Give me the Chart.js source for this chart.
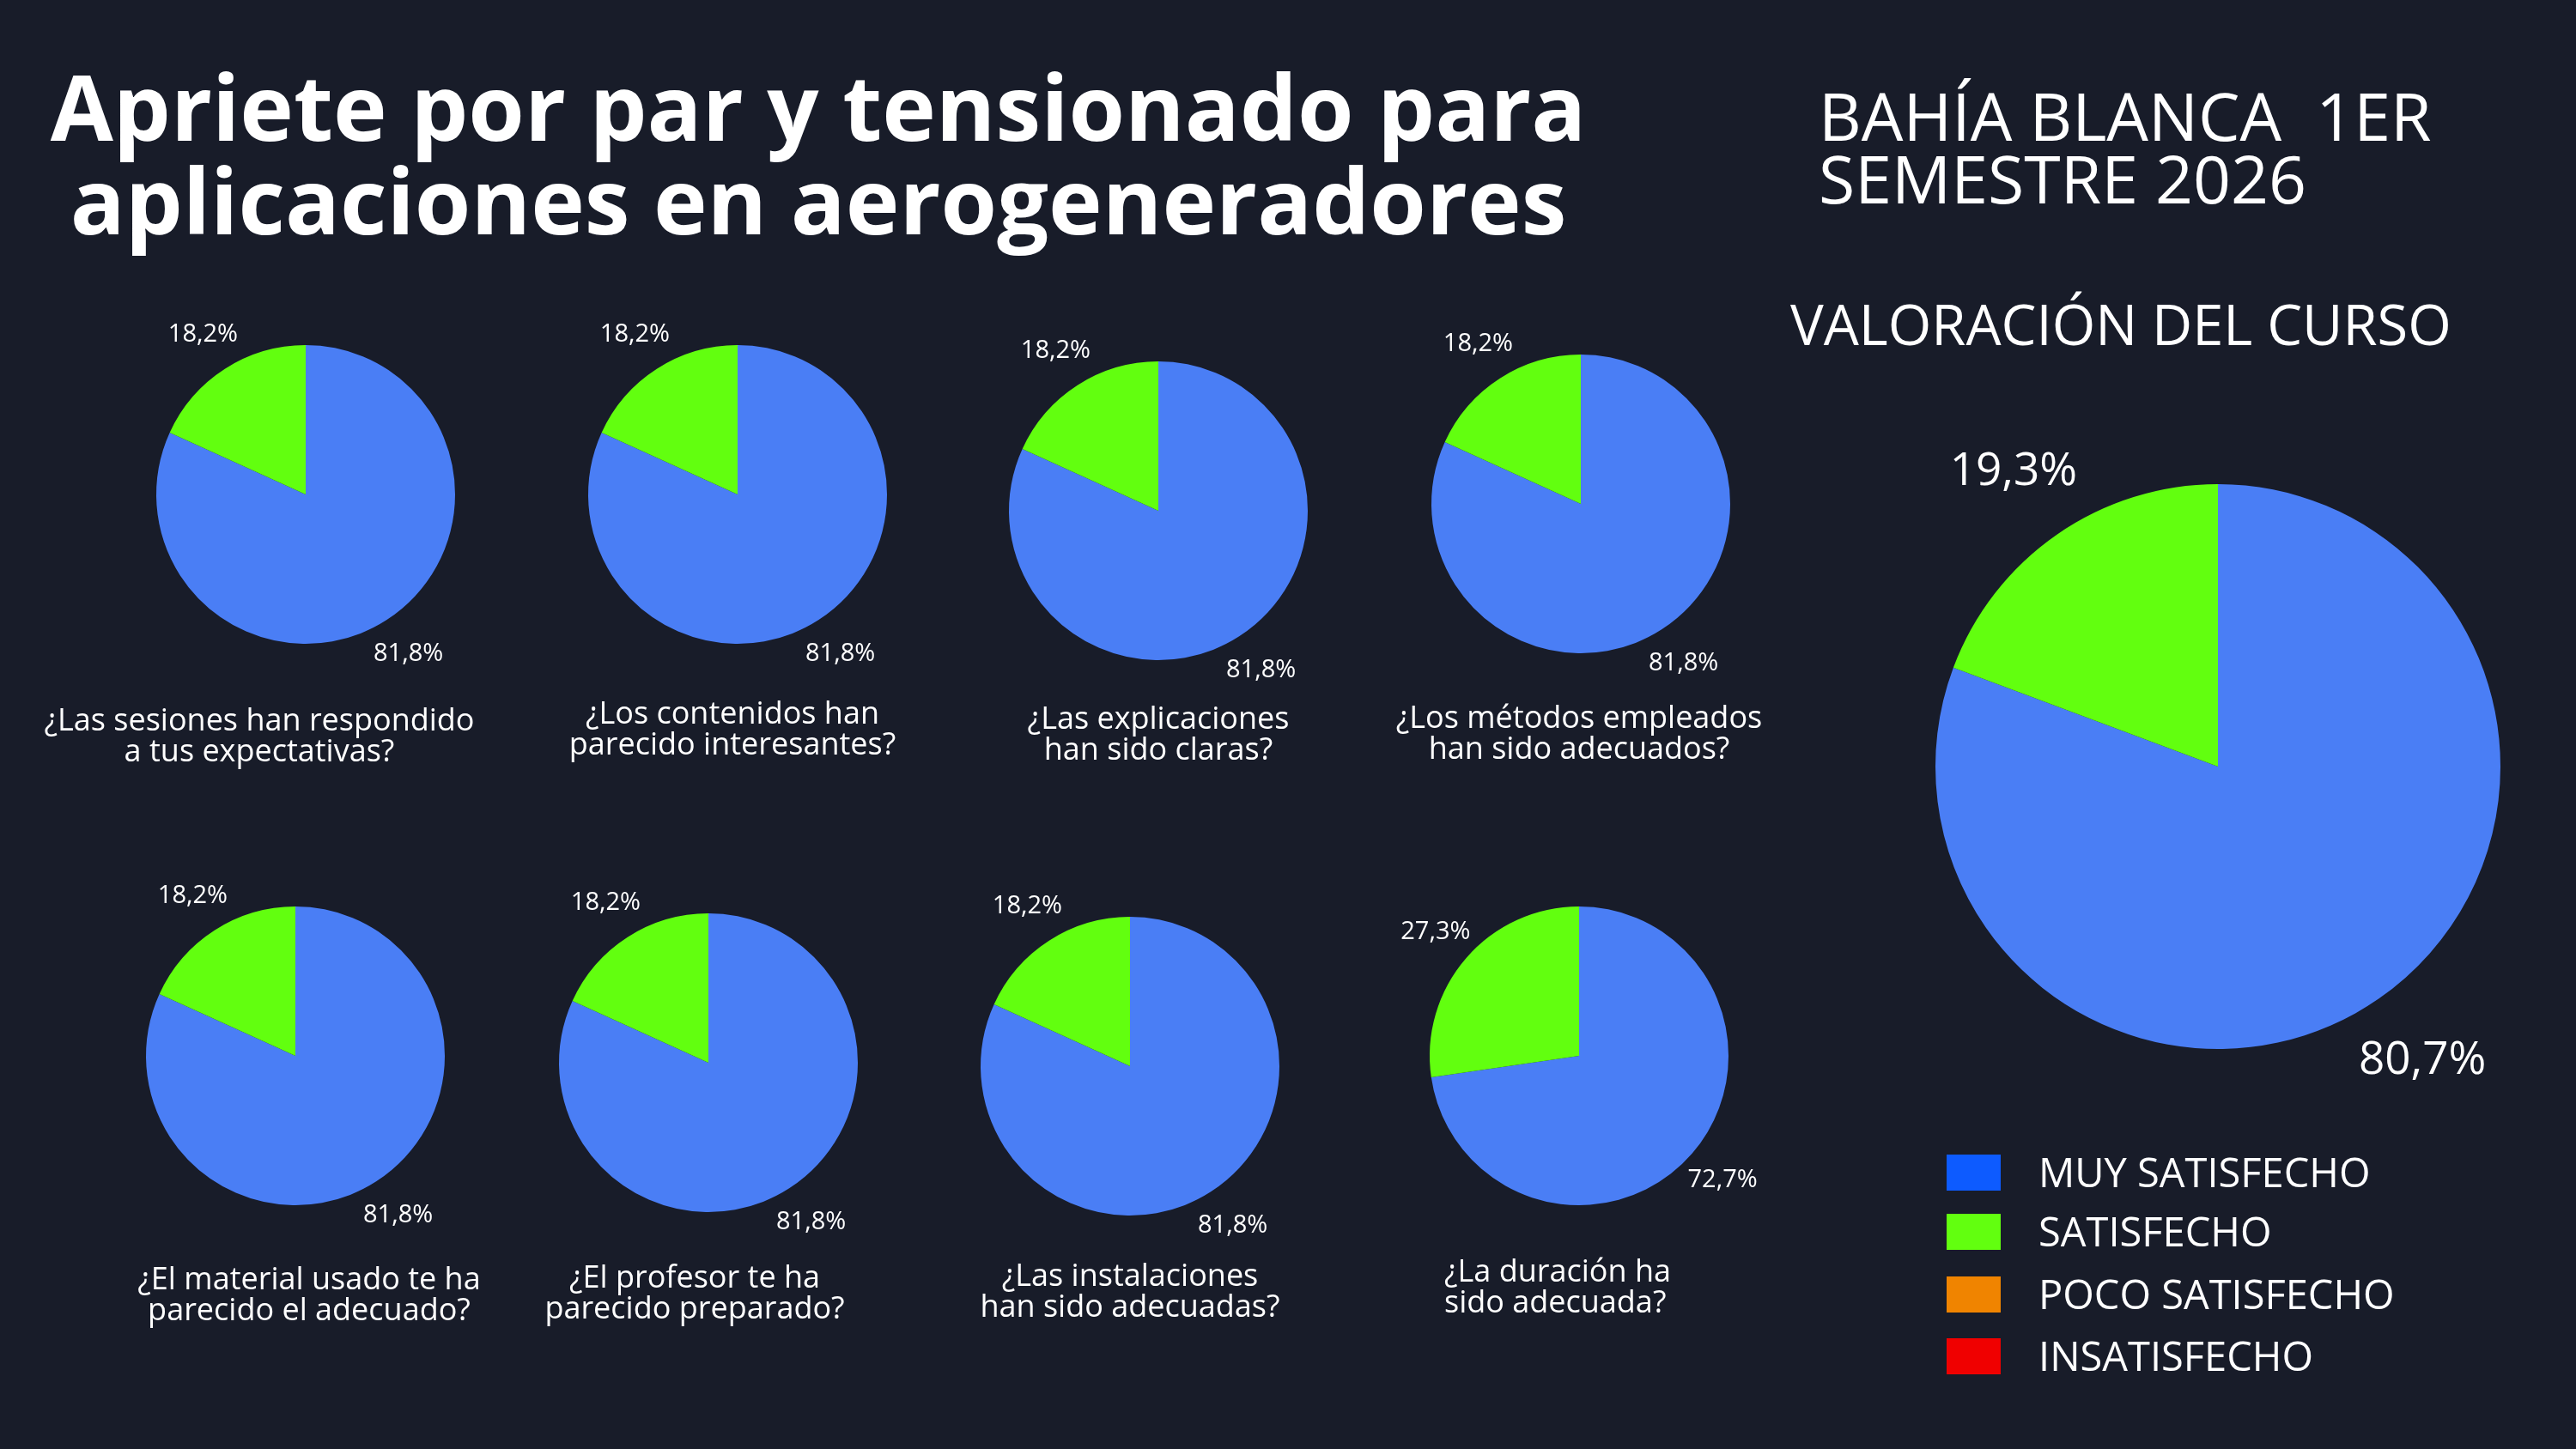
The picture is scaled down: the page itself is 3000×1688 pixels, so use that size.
<!DOCTYPE html>
<html lang="es">
<head>
<meta charset="utf-8">
<script src="https://cdn.jsdelivr.net/npm/chart.js@4.4.0/dist/chart.umd.min.js"></script>
<style>
  html, body {
    margin: 0;
    padding: 0;
    background: #181c29;
  }
  #page {
    position: relative;
    width: 3000px;
    height: 1688px;
    overflow: hidden;
    background: #181c29;
    font-family: "Open Sans", "Noto Sans", sans-serif;
    color: #ffffff;
  }
  .txt {
    position: absolute;
    white-space: nowrap;
  }
  .center {
    transform: translate(-50%, -50%);
    text-align: center;
  }
  .left {
    transform: translate(0, -50%);
    text-align: left;
  }
  #title {
    left: 953px;
    top: 178px;
    font-size: 106px;
    font-weight: 700;
    line-height: 109px;
  }
  #place {
    left: 2118px;
    top: 171px;
    font-size: 77px;
    font-weight: 400;
    line-height: 73px;
  }
  #subtitle {
    left: 2085px;
    top: 377px;
    font-size: 65px;
    font-weight: 400;
  }
  .question {
    font-size: 36px;
    line-height: 36px;
  }
  .pie {
    position: absolute;
  }
  .swatch {
    position: absolute;
    width: 63px;
    height: 42px;
  }
  .legend-text {
    font-size: 47px;
    font-weight: 400;
  }
</style>
</head>
<body>
<div id="page">
  <div id="title" class="txt center">Apriete por par y tensionado para<br>aplicaciones en aerogeneradores</div>
  <div id="place" class="txt left">BAHÍA BLANCA&nbsp;&nbsp;1ER<br>SEMESTRE 2026</div>
  <div id="subtitle" class="txt left">VALORACIÓN DEL CURSO</div>
</div>
<script>
// data
const questions = [
  "¿Las sesiones han respondido\na tus expectativas?",
  "¿Los contenidos han\nparecido interesantes?",
  "¿Las explicaciones\nhan sido claras?",
  "¿Los métodos empleados\nhan sido adecuados?",
  "¿El material usado te ha\nparecido el adecuado?",
  "¿El profesor te ha\nparecido preparado?",
  "¿Las instalaciones\nhan sido adecuadas?",
  "¿La duración ha\nsido adecuada?",
];
const muySatisfecho = [81.8, 81.8, 81.8, 81.8, 81.8, 81.8, 81.8, 72.7];
const satisfecho = [18.2, 18.2, 18.2, 18.2, 18.2, 18.2, 18.2, 27.3];

const categories = ["MUY SATISFECHO", "SATISFECHO", "POCO SATISFECHO", "INSATISFECHO"];
const totalValues = [80.7, 19.3, 0, 0];

// colours
const pieColors = ["#4a7ef5", "#62ff0f", "#f08400", "#f00000"];
const legendColors = ["#0d5bff", "#62ff0f", "#f08400", "#f00000"];

// where each small pie sits on the page (centre of pie, question anchor)
const spots = [
  { cx: 356, cy: 576, qx: 302, qy: 856, align: "center" },
  { cx: 859, cy: 576, qx: 853, qy: 848, align: "center" },
  { cx: 1349, cy: 595, qx: 1349, qy: 854, align: "center" },
  { cx: 1841, cy: 587, qx: 1839, qy: 853, align: "center" },
  { cx: 344, cy: 1230, qx: 360, qy: 1507, align: "center" },
  { cx: 825, cy: 1238, qx: 809, qy: 1505, align: "center" },
  { cx: 1316, cy: 1242, qx: 1316, qy: 1503, align: "center" },
  { cx: 1839, cy: 1230, qx: 1682, qy: 1498, align: "left" },
];

const page = document.getElementById("page");

// draws "81,8%" style labels just outside each slice
const outsideLabels = {
  id: "outsideLabels",
  afterDatasetsDraw(chart, args, opts) {
    const ctx = chart.ctx;
    const meta = chart.getDatasetMeta(0);
    const values = chart.data.datasets[0].data;
    ctx.save();
    ctx.fillStyle = "#ffffff";
    ctx.font = opts.size + "px 'Open Sans', 'Noto Sans', sans-serif";
    ctx.textAlign = "center";
    ctx.textBaseline = "middle";
    meta.data.forEach((arc, i) => {
      if (!values[i]) return;
      const mid = (arc.startAngle + arc.endAngle) / 2;
      const r = arc.outerRadius * 1.27;
      const x = arc.x + Math.cos(mid) * r;
      const y = arc.y + Math.sin(mid) * r;
      ctx.fillText(values[i].toFixed(1).replace(".", ",") + "%", x, y);
    });
    ctx.restore();
  },
};

function makePie(canvas, values, padding, labelSize) {
  return new Chart(canvas.getContext("2d"), {
    type: "pie",
    data: {
      labels: categories.slice(0, values.length),
      datasets: [
        {
          data: values,
          backgroundColor: pieColors.slice(0, values.length),
          borderWidth: 0,
        },
      ],
    },
    options: {
      responsive: false,
      animation: false,
      devicePixelRatio: 1,
      layout: { padding: padding },
      plugins: {
        legend: { display: false },
        tooltip: { enabled: false },
        outsideLabels: { size: labelSize },
      },
    },
    plugins: [outsideLabels],
  });
}

// small pies
questions.forEach((q, i) => {
  const spot = spots[i];
  const canvas = document.createElement("canvas");
  canvas.width = 500;
  canvas.height = 500;
  canvas.className = "pie";
  canvas.style.left = spot.cx - 250 + "px";
  canvas.style.top = spot.cy - 250 + "px";
  page.appendChild(canvas);
  makePie(canvas, [muySatisfecho[i], satisfecho[i]], 76, 29);

  const label = document.createElement("div");
  label.className = "txt question " + (spot.align === "left" ? "left" : "center");
  label.style.left = spot.qx + "px";
  label.style.top = spot.qy + "px";
  label.innerHTML = q.replace("\n", "<br>");
  page.appendChild(label);
});

// overall pie
const big = document.createElement("canvas");
big.width = 900;
big.height = 900;
big.className = "pie";
big.style.left = 2583 - 450 + "px";
big.style.top = 893 - 450 + "px";
page.appendChild(big);
makePie(big, totalValues, 121, 53);

// legend
const legendTops = [1345, 1414, 1487, 1559];
categories.forEach((name, i) => {
  const sw = document.createElement("div");
  sw.className = "swatch";
  sw.style.left = "2267px";
  sw.style.top = legendTops[i] + "px";
  sw.style.background = legendColors[i];
  page.appendChild(sw);

  const t = document.createElement("div");
  t.className = "txt left legend-text";
  t.style.left = "2374px";
  t.style.top = legendTops[i] + 20 + "px";
  t.textContent = name;
  page.appendChild(t);
});
</script>
</body>
</html>
